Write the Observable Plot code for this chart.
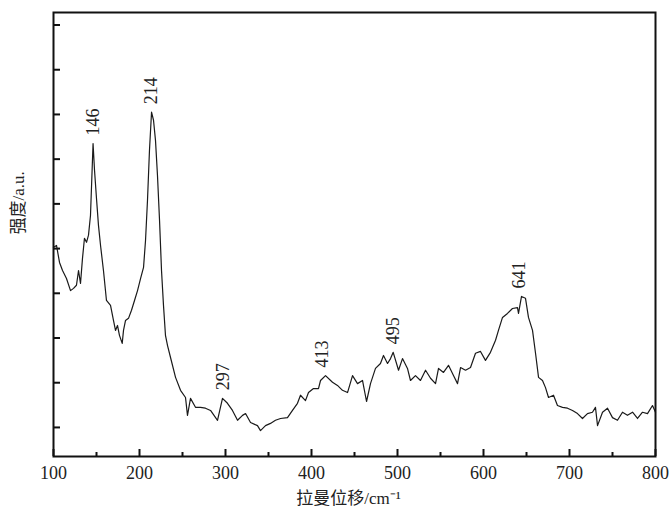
<!DOCTYPE html>
<html><head><meta charset="utf-8">
<script src="https://cdn.jsdelivr.net/npm/d3@7"></script>
<script src="https://cdn.jsdelivr.net/npm/@observablehq/plot@0.6"></script>
<style>body{margin:0;background:#fff} svg text{font-family:"Liberation Serif","Noto Sans CJK SC",serif !important;}</style>
</head><body><div id="chart"></div>
<script>
const ramanShift = [100,103.5,107.0,110.5,115.1,119.8,123.3,126.7,129.1,131.4,133.7,136.0,138.4,140.7,143.0,146,147.7,150.0,152.3,154.7,158.1,161.6,166.3,169.8,172.1,174.4,176.7,179.9,181.4,183.7,187.2,190.7,194.2,197.7,201.2,204.7,207.0,209.3,211.6,214,216.3,218.6,220.9,223.3,225.6,227.9,230.2,232.6,236.0,241.9,247.7,253.5,255.8,259.3,265.1,270.9,276.7,282.6,290.7,296.5,302.3,308.1,314.0,319.8,323.3,329.1,337.2,340.7,346.5,352.3,358.1,364.0,372.1,377.9,383.7,387.2,393.0,396.5,402.3,408.1,410.5,416.3,424.4,430.2,436.0,441.9,447.7,453.5,459.3,464.0,468.6,474.4,480.2,483.7,488.4,491.9,495,501.2,505.8,511.6,515.1,520.9,526.7,532.6,538.4,544.2,547.7,553.5,559.3,565.1,569.8,573.3,579.1,584.9,590.7,596.5,602.3,608.1,614.0,617.4,622.1,627.9,633.7,639.5,640.7,644.2,648.8,652.3,657.0,660.5,664.0,668.6,672.1,675.6,681.4,686.0,691.9,697.7,703.5,709.3,715.1,720.9,726.7,730.2,732.6,738.4,744.2,750.0,755.8,761.6,767.4,773.3,779.1,784.9,790.7,796.5,800];
const intensity = [5.03,5.07,4.69,4.51,4.33,4.06,4.11,4.18,4.51,4.22,4.78,5.23,5.14,5.30,5.74,7.35,6.75,6.12,5.52,5.07,4.51,3.84,3.73,3.39,3.17,3.28,3.06,2.88,3.17,3.39,3.44,3.62,3.84,4.06,4.33,4.58,5.18,6.08,7.20,8.05,7.87,7.42,6.64,5.63,4.51,3.73,3.06,2.83,2.57,2.12,1.83,1.67,1.27,1.65,1.45,1.45,1.43,1.38,1.16,1.65,1.54,1.38,1.16,1.27,1.31,1.11,1.04,0.93,1.04,1.09,1.16,1.20,1.22,1.38,1.54,1.72,1.60,1.78,1.87,1.87,2.05,2.16,2.01,1.94,1.83,1.78,2.16,1.98,2.05,1.58,1.98,2.32,2.43,2.61,2.43,2.54,2.68,2.28,2.54,2.32,2.05,2.16,2.05,2.28,2.10,1.98,2.32,2.23,2.39,2.16,1.98,2.34,2.28,2.34,2.66,2.70,2.50,2.68,2.95,3.17,3.46,3.55,3.66,3.68,3.55,3.93,3.89,3.46,3.17,2.66,2.12,2.05,1.89,1.67,1.72,1.49,1.45,1.43,1.38,1.31,1.20,1.31,1.34,1.45,1.04,1.34,1.43,1.22,1.16,1.34,1.27,1.34,1.20,1.34,1.31,1.49,1.34];
const peakPositions = [146, 214, 297, 413, 495, 641];
const peakLabels = ["146", "214", "297", "413", "495", "641"];
const xMajorTicks = [100, 200, 300, 400, 500, 600, 700, 800];
const xMinorTicks = [150, 250, 350, 450, 550, 650, 750];
const yTicks = [1, 2, 3, 4, 5, 6, 7, 8, 9, 10];
const xTitle = "拉曼位移/cm⁻¹";
const yTitle = "强度/a.u.";

const FONT = '"Liberation Serif", "Noto Sans CJK SC", serif';
const INK = "#222";

const data = ramanShift.map((x, i) => ({x, y: intensity[i]}));
const peaks = peakPositions.map((p, i) => {
  const near = data.filter(d => Math.abs(d.x - p) <= 5);
  return {x: p, y: d3.max(near, d => d.y), label: peakLabels[i]};
});

const chart = Plot.plot({
  width: 671, height: 515,
  marginLeft: 53, marginRight: 16, marginTop: 12, marginBottom: 59,
  style: {fontFamily: FONT, fontSize: "17px", color: INK, background: "#fff"},
  x: {domain: [100, 800]},
  y: {domain: [0.35, 10.28]},
  marks: [
    Plot.axisX(xMajorTicks, {tickSize: 0, tickPadding: 10, fontSize: 18, fontFamily: FONT, fill: INK, label: null, tickFormat: d => String(d)}),
    Plot.axisX(xMajorTicks, {tickSize: -7, fill: "none", stroke: "#111", strokeWidth: 2, label: null}),
    Plot.axisX(xMinorTicks, {tickSize: -4, fill: "none", stroke: "#111", strokeWidth: 2, label: null}),
    Plot.axisY(yTicks, {tickSize: -7, fill: "none", stroke: "#111", strokeWidth: 2, label: null}),
    Plot.line(data, {x: "x", y: "y", stroke: "#1a1a1a", strokeWidth: 1.2}),
    Plot.text(peaks, {x: "x", y: "y", text: "label", rotate: -90, textAnchor: "start", dy: -8, fontSize: 18, fontFamily: FONT, fill: INK}),
    Plot.frame({stroke: "#111", strokeWidth: 2}),
    Plot.text([xTitle], {frameAnchor: "bottom", dy: 47, dx: -6, fontSize: 17, fontFamily: FONT, fill: INK}),
    Plot.text([yTitle], {frameAnchor: "left", rotate: -90, dx: -35, fontSize: 17, fontFamily: FONT, fill: INK})
  ]
});
d3.select(chart).selectAll("text").style("font-family", FONT);
document.getElementById("chart").appendChild(chart);
</script>
</body></html>
